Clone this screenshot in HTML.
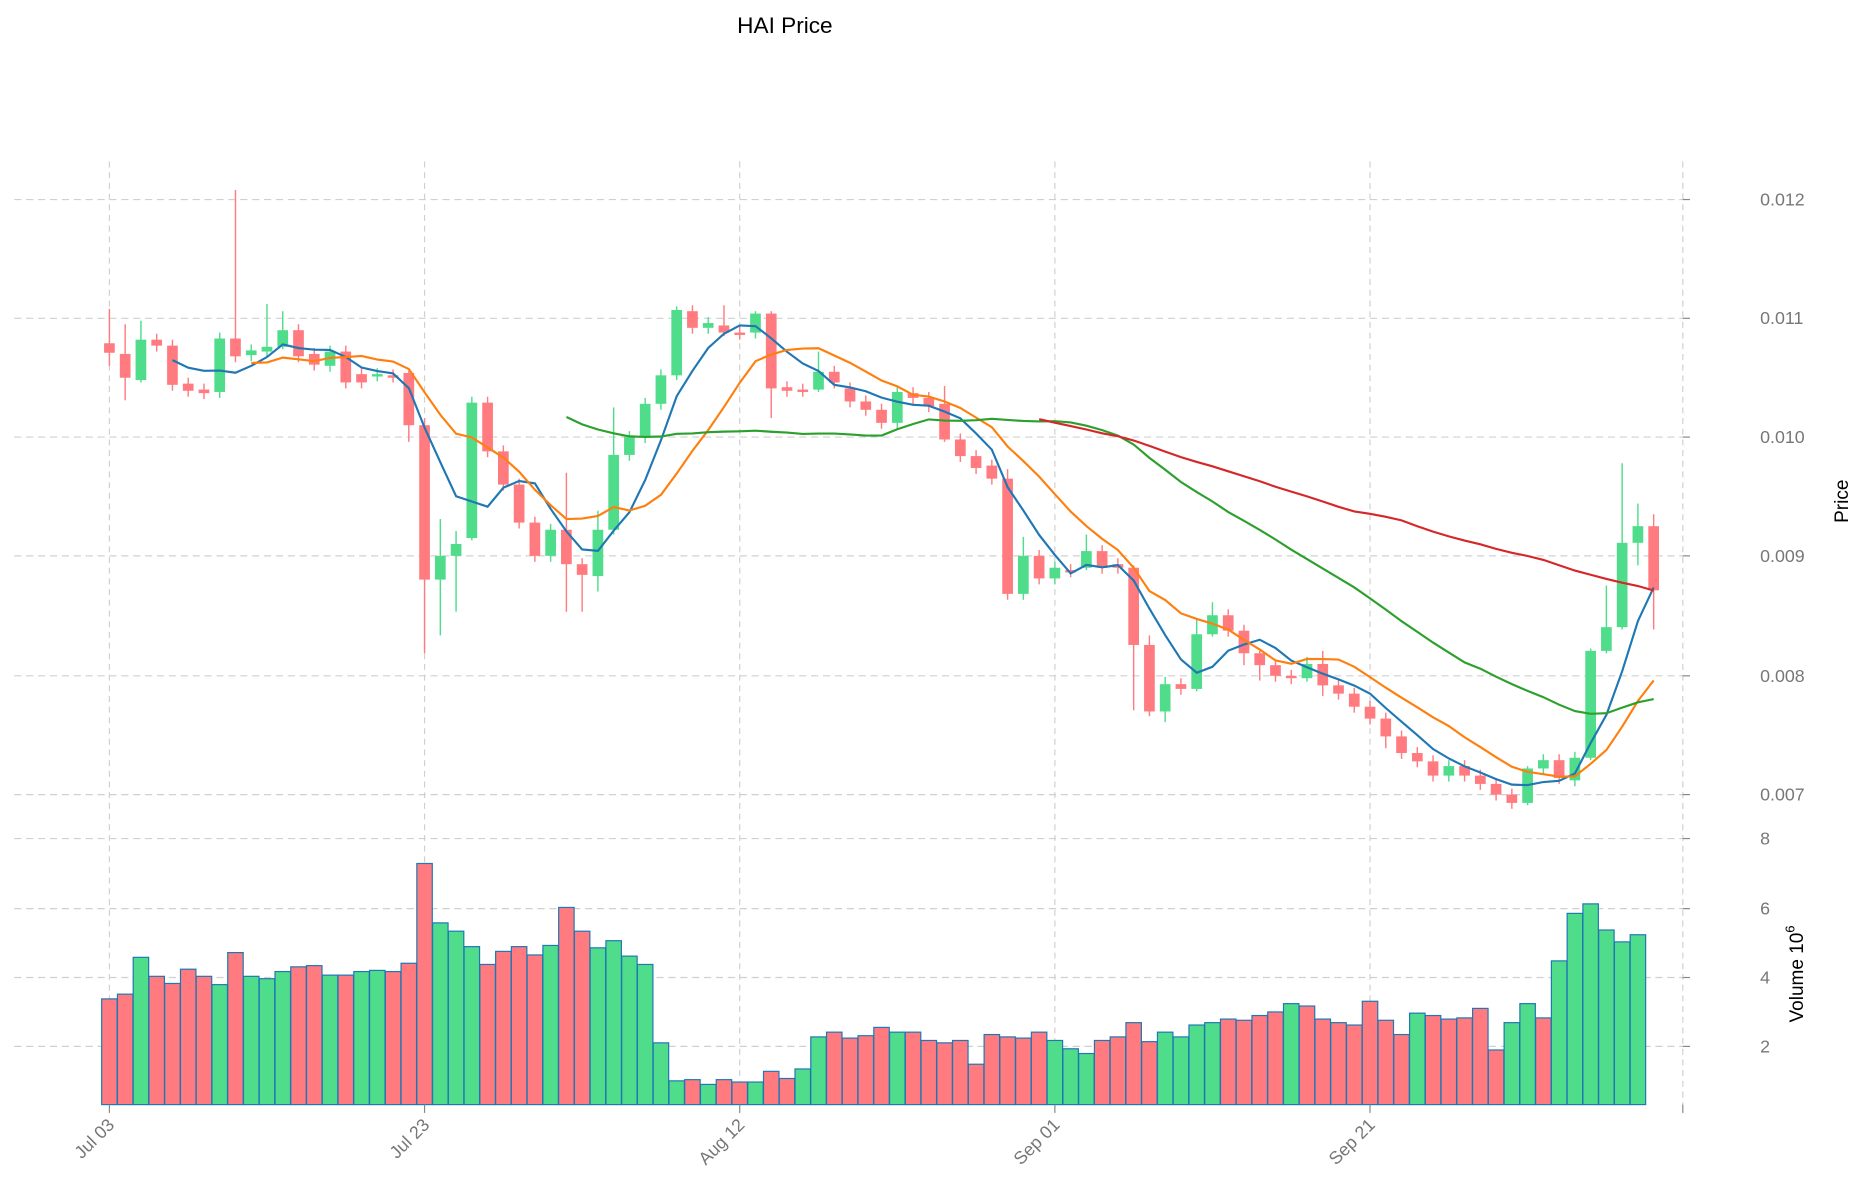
<!DOCTYPE html>
<html><head><meta charset="utf-8"><style>
html,body{margin:0;padding:0;background:#fff;}
svg{display:block;font-family:"Liberation Sans","DejaVu Sans",sans-serif;}
</style></head><body>
<svg id="c" width="1860" height="1202" viewBox="0 0 1564 1012" preserveAspectRatio="none" xmlns="http://www.w3.org/2000/svg">
<text x="660" y="28" font-size="19" text-anchor="middle" fill="#000">HAI Price</text>
<g id="grid"></g><g id="vol"></g><g id="cand"></g><g id="ma"></g><g id="axes"></g>
<text transform="translate(1554,422) rotate(-90)" font-size="16" text-anchor="middle" fill="#000">Price</text>
<text transform="translate(1516,820) rotate(-90)" font-size="16" text-anchor="middle" fill="#000">Volume  10<tspan dy="-7" font-size="11">6</tspan></text>
</svg>
<script>
var NS="http://www.w3.org/2000/svg";
function el(p,t,a,txt){var e=document.createElementNS(NS,t);for(var k in a)e.setAttribute(k,a[k]);if(txt)e.textContent=txt;document.getElementById(p).appendChild(e);return e;}
var G="#4fdd8b",R="#ff7b80";
var oc=[[289,297],[298,318],[320,286],[286,291],[291,324],[323,329],[328,331],[330,285],[285,300],[299,295],[296,292],[292,278],[278,300],[298,307],[308,296],[296,322],[315,322],[316,315],[316,317],[314,358],[358,488],[488,468],[468,458],[453,339],[339,380],[380,408],[408,440],[440,468],[468,446],[446,475],[475,484],[485,446],[446,383],[383,368],[368,340],[340,316],[316,261],[262,276],[276,272],[274,280],[280,281],[280,264],[264,327],[326,329],[328,329],[328,313],[313,322],[327,338],[338,345],[345,356],[356,330],[331,335],[335,342],[340,370],[370,384],[384,394],[392,403],[403,500],[500,468],[468,487],[487,478],[480,481],[478,464],[464,478],[475,478],[478,543],[543,599],[599,576],[576,580],[580,534],[534,518],[518,531],[531,550],[550,560],[560,569],[569,571],[571,559],[559,577],[577,584],[584,595],[595,605],[605,620],[620,634],[634,641],[641,653],[653,645],[645,653],[653,660],[660,669],[669,676],[676,647],[647,640],[640,655],[657,638],[638,548],[548,528],[528,457],[457,443],[443,497]];
var wk={0:[260,308],1:[273,337],2:[270,322],8:[160,305],10:[256,300],11:[262,294],19:[312,372],20:[352,550],21:[437,535],22:[447,515],23:[334,455],29:[398,515],30:[470,515],31:[430,498],32:[343,450],36:[258,320],39:[257,283],41:[262,285],42:[262,352],45:[296,330],53:[325,372],57:[395,505],58:[452,505],62:[450,480],65:[476,598],66:[535,603],67:[570,608],69:[522,582],70:[507,536],72:[526,560],73:[548,573],76:[553,574],77:[548,586],81:[600,630],90:[645,678],94:[546,640],95:[493,550],96:[390,530],97:[424,476],98:[433,530]};
var vol=[841,837,806,822,828,816,822,829,802,822,824,818,814,813,821,821,818,817,818,811,727,777,784,797,812,801,797,804,796,764,784,798,792,805,812,878,910,909,913,909,911,911,902,908,900,873,869,874,872,865,869,869,876,878,876,896,871,873,874,869,876,883,887,876,873,861,877,869,873,863,861,858,859,855,852,845,847,858,861,863,843,859,871,853,855,858,857,849,884,861,845,857,809,769,761,783,793,787];
var vcol="RRGRRRRGRGGGRRGRGGRRRGGGRRRRGRRGGGGGGRGRRGRRGGRRRRGRRRRRRRRRGGGRRRRGGGGRRRRGRRRRRRRGRRRRRGGRGGGGGGR";
function X(i){return 92+13.25*i;}
[168,268,368,468,569,669].forEach(function(y,k){el("grid","line",{x1:12,x2:1415,y1:y,y2:y,stroke:"#d0d0d0","stroke-dasharray":"6,4"});el("axes","line",{x1:1415,x2:1421,y1:y,y2:y,stroke:"#888"});el("axes","text",{x:1480,y:y+5,"font-size":15,fill:"#777"},["0.012","0.011","0.010","0.009","0.008","0.007"][k]);});
[706,765,823,881].forEach(function(y,k){el("grid","line",{x1:12,x2:1415,y1:y,y2:y,stroke:"#d0d0d0","stroke-dasharray":"6,4"});el("axes","line",{x1:1415,x2:1421,y1:y,y2:y,stroke:"#888"});el("axes","text",{x:1480,y:y+5,"font-size":15,fill:"#777"},["8","6","4","2"][k]);});
[92,357,622,887,1152,1415].forEach(function(x,k){el("grid","line",{x1:x,x2:x,y1:136,y2:930,stroke:"#d0d0d0","stroke-dasharray":"5,4"});el("axes","line",{x1:x,x2:x,y1:930,y2:937,stroke:"#888"});if(k<5)el("axes","text",{"text-anchor":"end","font-size":15,fill:"#777",transform:"translate("+(x+5)+",948) rotate(-45)"},["Jul 03","Jul 23","Aug 12","Sep 01","Sep 21"][k]);});
for(var i=0;i<vol.length;i++){el("vol","rect",{x:X(i)-6.5,y:vol[i],width:13,height:930-vol[i],fill:vcol[i]=="G"?G:R,stroke:"#1f77b4","stroke-width":1});}
for(var i=0;i<oc.length;i++){var o=oc[i][0],c=oc[i][1],col=c<o?G:R;var t=Math.min(o,c),b=Math.max(o,c);var w=wk[i]||[t-5,b+5];
el("cand","line",{x1:X(i),x2:X(i),y1:w[0],y2:w[1],stroke:col,"stroke-width":1.2});
el("cand","rect",{x:X(i)-4.5,y:t,width:9,height:Math.max(b-t,2),fill:col});}
function ma(n,color){var pts=[];for(var i=n-1;i<oc.length;i++){var s=0;for(var j=i-n+1;j<=i;j++)s+=oc[j][1];pts.push(X(i).toFixed(1)+","+(s/n).toFixed(1));}
el("ma","polyline",{points:pts.join(" "),fill:"none",stroke:color,"stroke-width":1.8});}
ma(5,"#1f77b4");ma(10,"#ff7f0e");ma(30,"#2ca02c");ma(60,"#d62728");
</script>
</body></html>
